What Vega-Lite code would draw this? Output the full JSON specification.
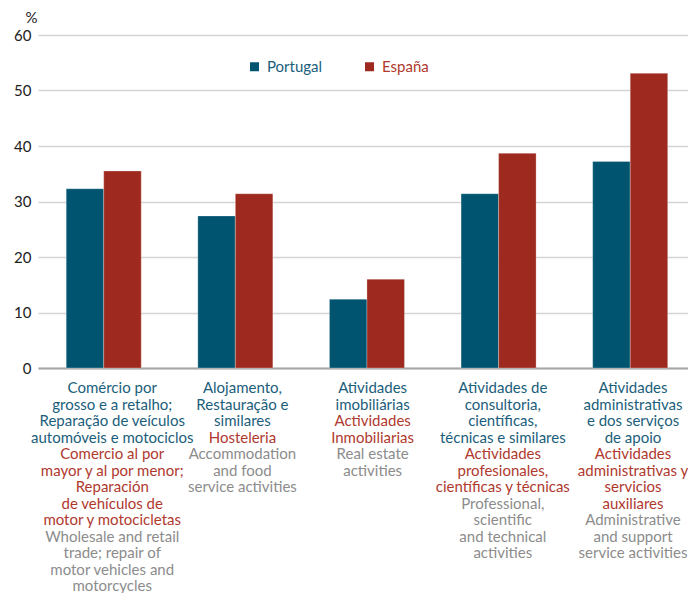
{
  "$schema": "https://vega.github.io/schema/vega-lite/v6.json",
  "padding": {"left": 13, "top": 10, "right": 0, "bottom": 0},
  "bounds": "flush",
  "spacing": 20,
  "config": {
    "font": "Lato",
    "view": {"stroke": null}
  },
  "datasets": {
    "bars": [
      {"cat": "c1", "country": "Portugal", "value": 32.3},
      {"cat": "c1", "country": "España", "value": 35.5},
      {"cat": "c2", "country": "Portugal", "value": 27.4},
      {"cat": "c2", "country": "España", "value": 31.4},
      {"cat": "c3", "country": "Portugal", "value": 12.4},
      {"cat": "c3", "country": "España", "value": 16.0},
      {"cat": "c4", "country": "Portugal", "value": 31.4},
      {"cat": "c4", "country": "España", "value": 38.7},
      {"cat": "c5", "country": "Portugal", "value": 37.2},
      {"cat": "c5", "country": "España", "value": 53.1}
    ],
    "labels": [
      {"cat": "c1", "line": 0, "lang": "pt", "text": "Comércio por"},
      {"cat": "c1", "line": 1, "lang": "pt", "text": "grosso e a retalho;"},
      {"cat": "c1", "line": 2, "lang": "pt", "text": "Reparação de veículos"},
      {"cat": "c1", "line": 3, "lang": "pt", "text": "automóveis e motociclos"},
      {"cat": "c1", "line": 4, "lang": "es", "text": "Comercio al por"},
      {"cat": "c1", "line": 5, "lang": "es", "text": "mayor y al por menor;"},
      {"cat": "c1", "line": 6, "lang": "es", "text": "Reparación"},
      {"cat": "c1", "line": 7, "lang": "es", "text": "de vehículos de"},
      {"cat": "c1", "line": 8, "lang": "es", "text": "motor y motocicletas"},
      {"cat": "c1", "line": 9, "lang": "en", "text": "Wholesale and retail"},
      {"cat": "c1", "line": 10, "lang": "en", "text": "trade; repair of"},
      {"cat": "c1", "line": 11, "lang": "en", "text": "motor vehicles and"},
      {"cat": "c1", "line": 12, "lang": "en", "text": "motorcycles"},
      {"cat": "c2", "line": 0, "lang": "pt", "text": "Alojamento,"},
      {"cat": "c2", "line": 1, "lang": "pt", "text": "Restauração e"},
      {"cat": "c2", "line": 2, "lang": "pt", "text": "similares"},
      {"cat": "c2", "line": 3, "lang": "es", "text": "Hosteleria"},
      {"cat": "c2", "line": 4, "lang": "en", "text": "Accommodation"},
      {"cat": "c2", "line": 5, "lang": "en", "text": "and food"},
      {"cat": "c2", "line": 6, "lang": "en", "text": "service activities"},
      {"cat": "c3", "line": 0, "lang": "pt", "text": "Atividades"},
      {"cat": "c3", "line": 1, "lang": "pt", "text": "imobiliárias"},
      {"cat": "c3", "line": 2, "lang": "es", "text": "Actividades"},
      {"cat": "c3", "line": 3, "lang": "es", "text": "Inmobiliarias"},
      {"cat": "c3", "line": 4, "lang": "en", "text": "Real estate"},
      {"cat": "c3", "line": 5, "lang": "en", "text": "activities"},
      {"cat": "c4", "line": 0, "lang": "pt", "text": "Atividades de"},
      {"cat": "c4", "line": 1, "lang": "pt", "text": "consultoria,"},
      {"cat": "c4", "line": 2, "lang": "pt", "text": "científicas,"},
      {"cat": "c4", "line": 3, "lang": "pt", "text": "técnicas e similares"},
      {"cat": "c4", "line": 4, "lang": "es", "text": "Actividades"},
      {"cat": "c4", "line": 5, "lang": "es", "text": "profesionales,"},
      {"cat": "c4", "line": 6, "lang": "es", "text": "científicas y técnicas"},
      {"cat": "c4", "line": 7, "lang": "en", "text": "Professional,"},
      {"cat": "c4", "line": 8, "lang": "en", "text": "scientific"},
      {"cat": "c4", "line": 9, "lang": "en", "text": "and technical"},
      {"cat": "c4", "line": 10, "lang": "en", "text": "activities"},
      {"cat": "c5", "line": 0, "lang": "pt", "text": "Atividades"},
      {"cat": "c5", "line": 1, "lang": "pt", "text": "administrativas"},
      {"cat": "c5", "line": 2, "lang": "pt", "text": "e dos serviços"},
      {"cat": "c5", "line": 3, "lang": "pt", "text": "de apoio"},
      {"cat": "c5", "line": 4, "lang": "es", "text": "Actividades"},
      {"cat": "c5", "line": 5, "lang": "es", "text": "administrativas y"},
      {"cat": "c5", "line": 6, "lang": "es", "text": "servicios"},
      {"cat": "c5", "line": 7, "lang": "es", "text": "auxiliares"},
      {"cat": "c5", "line": 8, "lang": "en", "text": "Administrative"},
      {"cat": "c5", "line": 9, "lang": "en", "text": "and support"},
      {"cat": "c5", "line": 10, "lang": "en", "text": "service activities"}
    ]
  },
  "resolve": {"scale": {"color": "independent", "x": "independent"}, "legend": {"color": "independent"}},
  "vconcat": [
    {
      "width": 651,
      "height": 333,
      "data": {"name": "bars"},
      "mark": {"type": "bar", "stroke": "#ffffff", "strokeOpacity": 0.35, "strokeWidth": 0.8},
      "encoding": {
        "x": {
          "field": "cat", "type": "nominal",
          "scale": {"domain": ["c1", "c2", "c3", "c4", "c5"], "paddingInner": 0.43, "paddingOuter": 0.188, "align": 0.57},
          "axis": {"labels": false, "ticks": false, "title": null, "domainColor": "#a6a6a6", "domainWidth": 2}
        },
        "xOffset": {
          "field": "country", "type": "nominal",
          "scale": {"domain": ["Portugal", "España"], "paddingInner": 0, "paddingOuter": 0}
        },
        "y": {
          "field": "value", "type": "quantitative",
          "scale": {"domain": [0, 60], "nice": false},
          "axis": {
            "values": [0, 10, 20, 30, 40, 50, 60],
            "domain": false, "ticks": false,
            "gridColor": "#d4d4d4", "gridWidth": 1.5,
            "labelFont": "Lato", "labelFontSize": 15, "labelColor": "#222222", "labelPadding": 7,
            "title": "%", "titleAngle": 0, "titleAlign": "right", "titleBaseline": "alphabetic",
            "titleX": -1, "titleY": -13, "titleFont": "Lato", "titleFontSize": 15,
            "titleFontWeight": "normal", "titleColor": "#222222"
          }
        },
        "color": {
          "field": "country", "type": "nominal",
          "scale": {"domain": ["Portugal", "España"], "range": ["#00546F", "#9E2A1F"]},
          "legend": {
            "title": null, "orient": "none", "direction": "horizontal",
            "legendX": 209, "legendY": 24, "padding": 0,
            "symbolType": "square", "symbolSize": 81, "symbolStrokeWidth": 0,
            "labelFont": "Lato", "labelFontSize": 15, "labelOffset": 5,
            "columnPadding": 39,
            "labelColor": {"expr": "datum.value === 'Portugal' ? '#1b5e7b' : '#b0392e'"}
          }
        }
      }
    },
    {
      "width": 651,
      "height": 198,
      "data": {"name": "labels"},
      "mark": {"type": "text", "font": "Lato", "fontSize": 15, "baseline": "middle", "align": "center"},
      "encoding": {
        "x": {
          "field": "cat", "type": "nominal",
          "scale": {"domain": ["c1", "c2", "c3", "c4", "c5"], "paddingInner": 0.43, "paddingOuter": 0.188, "align": 0.57},
          "axis": null
        },
        "y": {
          "field": "line", "type": "quantitative",
          "scale": {"domain": [0, 12], "reverse": true, "nice": false, "zero": false},
          "axis": null
        },
        "text": {"field": "text"},
        "color": {
          "field": "lang", "type": "nominal",
          "scale": {"domain": ["pt", "es", "en"], "range": ["#1b5e7b", "#b0392e", "#8c8c8c"]},
          "legend": null
        }
      }
    }
  ]
}
